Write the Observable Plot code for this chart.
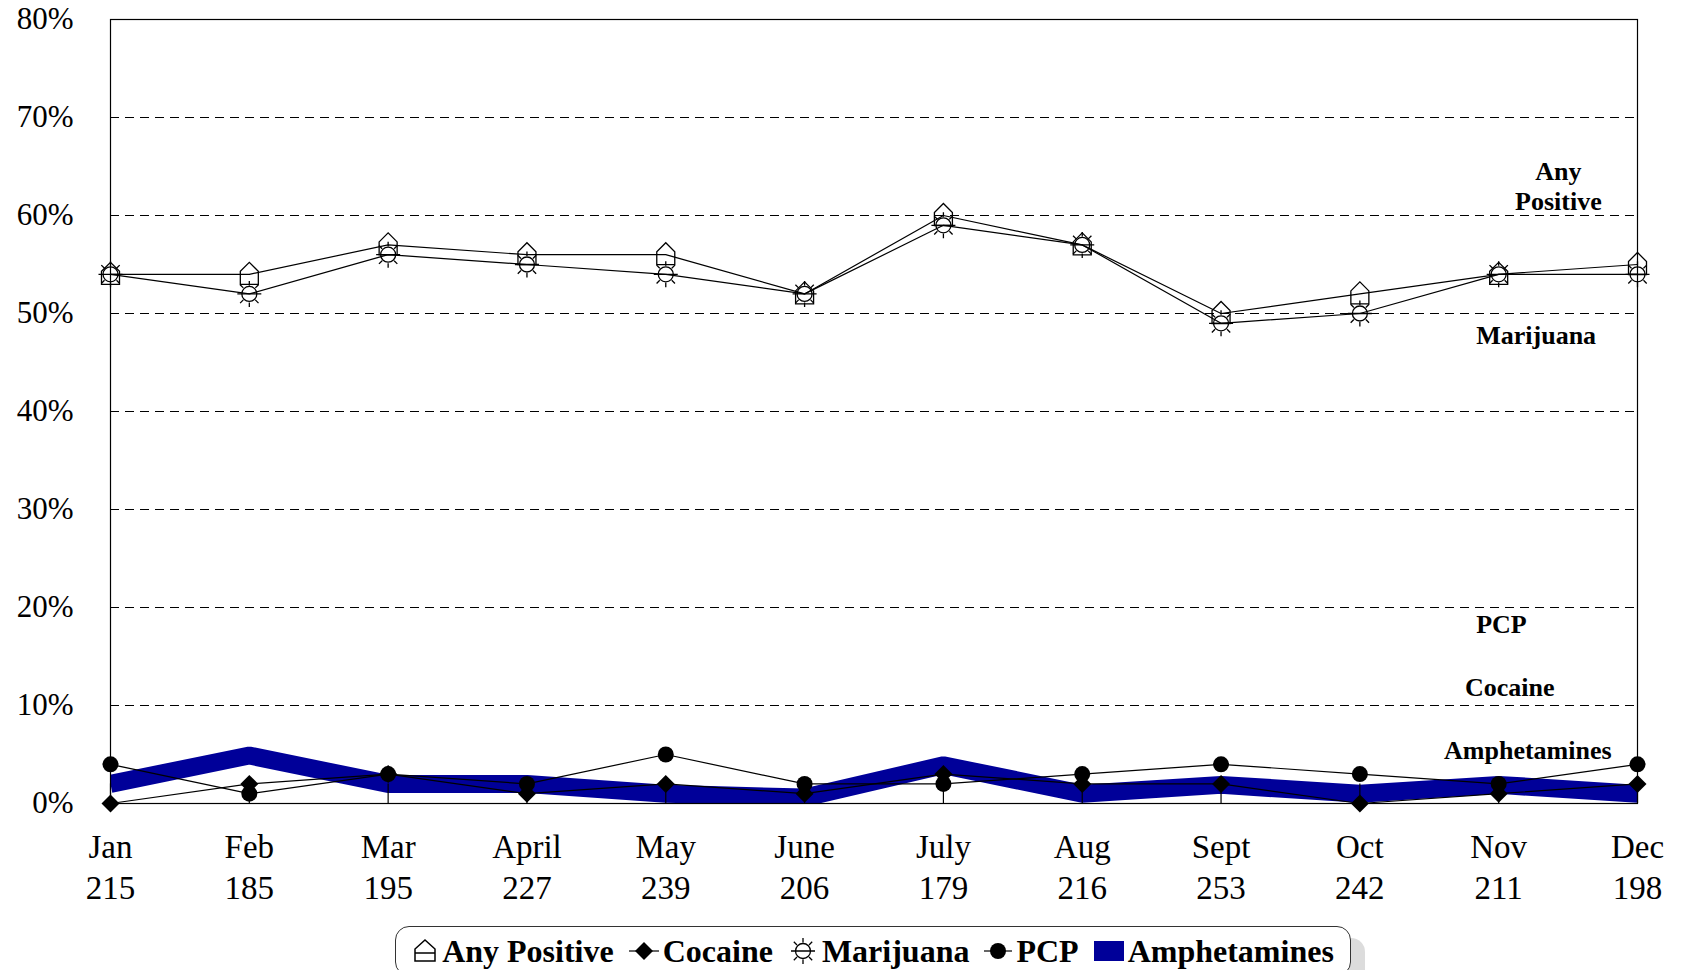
<!DOCTYPE html>
<html>
<head>
<meta charset="utf-8">
<script src="https://cdn.jsdelivr.net/npm/d3@7"></script>
<script src="https://cdn.jsdelivr.net/npm/@observablehq/plot@0.6"></script>
<style>
  body { margin: 0; background: #fff; font-family: "Liberation Serif", "Times New Roman", serif; }
  #wrap { width: 1684px; }
  #legend {
    margin-left: 395px; margin-top: 11px; width: 956px; height: 50px; box-sizing: border-box;
    border: 1.5px solid #333; border-radius: 14px; box-shadow: 14px 12px 0 #dcdcdc; background: #fff;
    display: flex; align-items: center; justify-content: center; gap: 15px;
    font-weight: bold; font-size: 32px; color: #000;
  }
  #legend .item { display: flex; align-items: center; gap: 4px; white-space: nowrap; }
  #legend svg { display: block; }
</style>
</head>
<body>
<div id="wrap">
  <div id="chart"></div>
  <div id="legend"></div>
</div>
<script>
const months = ["Jan","Feb","Mar","April","May","June","July","Aug","Sept","Oct","Nov","Dec"];
const counts = [215,185,195,227,239,206,179,216,253,242,211,198];
const anyPositive = [54,54,57,56,56,52,60,57,50,52,54,55];
const marijuana = [54,52,56,55,54,52,59,57,49,50,54,54];
const cocaine = [0,2,3,1,2,1,3,2,2,0,1,2];
const pcp = [4,1,3,2,5,2,2,3,4,3,2,4];
const amphetamines = [2,4.9,2,2,1,0.6,3.9,1,1.9,1,1.9,1];
const yTicks = [0,10,20,30,40,50,60,70,80];
const gridValues = [10,20,30,40,50,60,70];
const labelText = ["Any\nPositive","Marijuana","PCP","Cocaine","Amphetamines"];
const labelX = [10.43, 10.27, 10.02, 10.08, 10.21];
const labelY = [63.1, 47.9, 18.4, 11.9, 5.5];
const tickTop = 2;

const rows = months.map((m, i) => ({
  i, month: m, count: counts[i],
  any: anyPositive[i], mar: marijuana[i], coc: cocaine[i], pcp: pcp[i], amp: amphetamines[i]
}));
const labels = labelText.map((t, k) => ({text: t, x: labelX[k], y: labelY[k]}));

const house = { draw(ctx) {
  ctx.moveTo(-9, 10); ctx.lineTo(-9, -3); ctx.lineTo(0, -12); ctx.lineTo(9, -3); ctx.lineTo(9, 10); ctx.closePath();
}};
const sun = { draw(ctx) {
  ctx.moveTo(7.5, 0); ctx.arc(0, 0, 7.5, 0, 2 * Math.PI);
  ctx.moveTo(-12, 0); ctx.lineTo(12, 0);
  for (const a of [45, 90, 135, 225, 270, 315]) {
    const r = a * Math.PI / 180;
    ctx.moveTo(8.5 * Math.cos(r), 8.5 * Math.sin(r));
    ctx.lineTo(13 * Math.cos(r), 13 * Math.sin(r));
  }
}};
const diamond = { draw(ctx) {
  ctx.moveTo(0, -9); ctx.lineTo(9, 0); ctx.lineTo(0, 9); ctx.lineTo(-9, 0); ctx.closePath();
}};

const font = '"Liberation Serif", "Times New Roman", serif';
const chart = Plot.plot({
  width: 1684, height: 915,
  marginLeft: 110, marginRight: 47, marginTop: 19, marginBottom: 112,
  style: { fontFamily: font, background: "white", color: "black", overflow: "visible" },
  x: { domain: [0, 11], axis: null },
  y: { domain: [0, 80], axis: null },
  marks: [
    Plot.ruleY(gridValues, { stroke: "black", strokeWidth: 1, strokeDasharray: "9,6" }),
    Plot.line(rows, { x: "i", y: "amp", stroke: "#000099", strokeWidth: 18, strokeLinejoin: "miter", strokeLinecap: "butt", clip: true }),
    Plot.ruleX(rows, { x: "i", y1: 0, y2: tickTop, stroke: "black", strokeWidth: 1.2 }),
    Plot.line(rows, { x: "i", y: "pcp", stroke: "black", strokeWidth: 1.2 }),
    Plot.line(rows, { x: "i", y: "coc", stroke: "black", strokeWidth: 1.2 }),
    Plot.line(rows, { x: "i", y: "any", stroke: "black", strokeWidth: 1.2 }),
    Plot.line(rows, { x: "i", y: "mar", stroke: "black", strokeWidth: 1.2 }),
    Plot.dot(rows, { x: "i", y: "any", symbol: house, fill: "none", stroke: "black", strokeWidth: 1.3 }),
    Plot.dot(rows, { x: "i", y: "mar", symbol: sun, fill: "none", stroke: "black", strokeWidth: 1.3 }),
    Plot.dot(rows, { x: "i", y: "coc", symbol: diamond, fill: "black", stroke: "none" }),
    Plot.dot(rows, { x: "i", y: "pcp", r: 8, fill: "black", stroke: "none" }),
    Plot.frame({ stroke: "black", strokeWidth: 1.2 }),
    Plot.axisY({ ticks: yTicks, tickFormat: d => d + "%", tickSize: 0, tickPadding: 37, fontSize: 31, label: null }),
    Plot.text(rows, { x: "i", text: d => d.month + "\n" + d.count, frameAnchor: "bottom", lineAnchor: "top", dy: 25, fontSize: 33, lineHeight: 1.25 }),
    Plot.text(labels, { x: "x", y: "y", text: "text", fontWeight: "bold", fontSize: 26, lineHeight: 1.15 })
  ]
});
document.getElementById("chart").appendChild(chart);

const legendItems = [
  { name: "Any Positive", icon: '<svg width="26" height="30" viewBox="-13 -15 26 30"><path d="M-10,10V-2L0,-11L10,-2V10Z M-10,2H10" fill="none" stroke="black" stroke-width="1.5"/></svg>' },
  { name: "Cocaine", icon: '<svg width="30" height="30" viewBox="-15 -15 30 30"><line x1="-15" x2="15" y1="0" y2="0" stroke="black" stroke-width="1.2"/><path d="M0,-9L9,0L0,9L-9,0Z" fill="black"/></svg>' },
  { name: "Marijuana", icon: '<svg width="30" height="30" viewBox="-15 -15 30 30"><path d="' + (() => { const p = d3.path(); sun.draw(p); return p.toString(); })() + '" fill="none" stroke="black" stroke-width="1.3"/></svg>' },
  { name: "PCP", icon: '<svg width="28" height="30" viewBox="-14 -15 28 30"><line x1="-14" x2="14" y1="0" y2="0" stroke="black" stroke-width="1.2"/><circle r="8" fill="black"/></svg>' },
  { name: "Amphetamines", icon: '<svg width="30" height="24" viewBox="0 0 30 24"><rect x="0" y="2" width="30" height="20" fill="#000099"/></svg>' }
];
document.getElementById("legend").innerHTML = legendItems.map(d =>
  `<div class="item">${d.icon}<span>${d.name}</span></div>`).join("");
</script>
</body>
</html>
